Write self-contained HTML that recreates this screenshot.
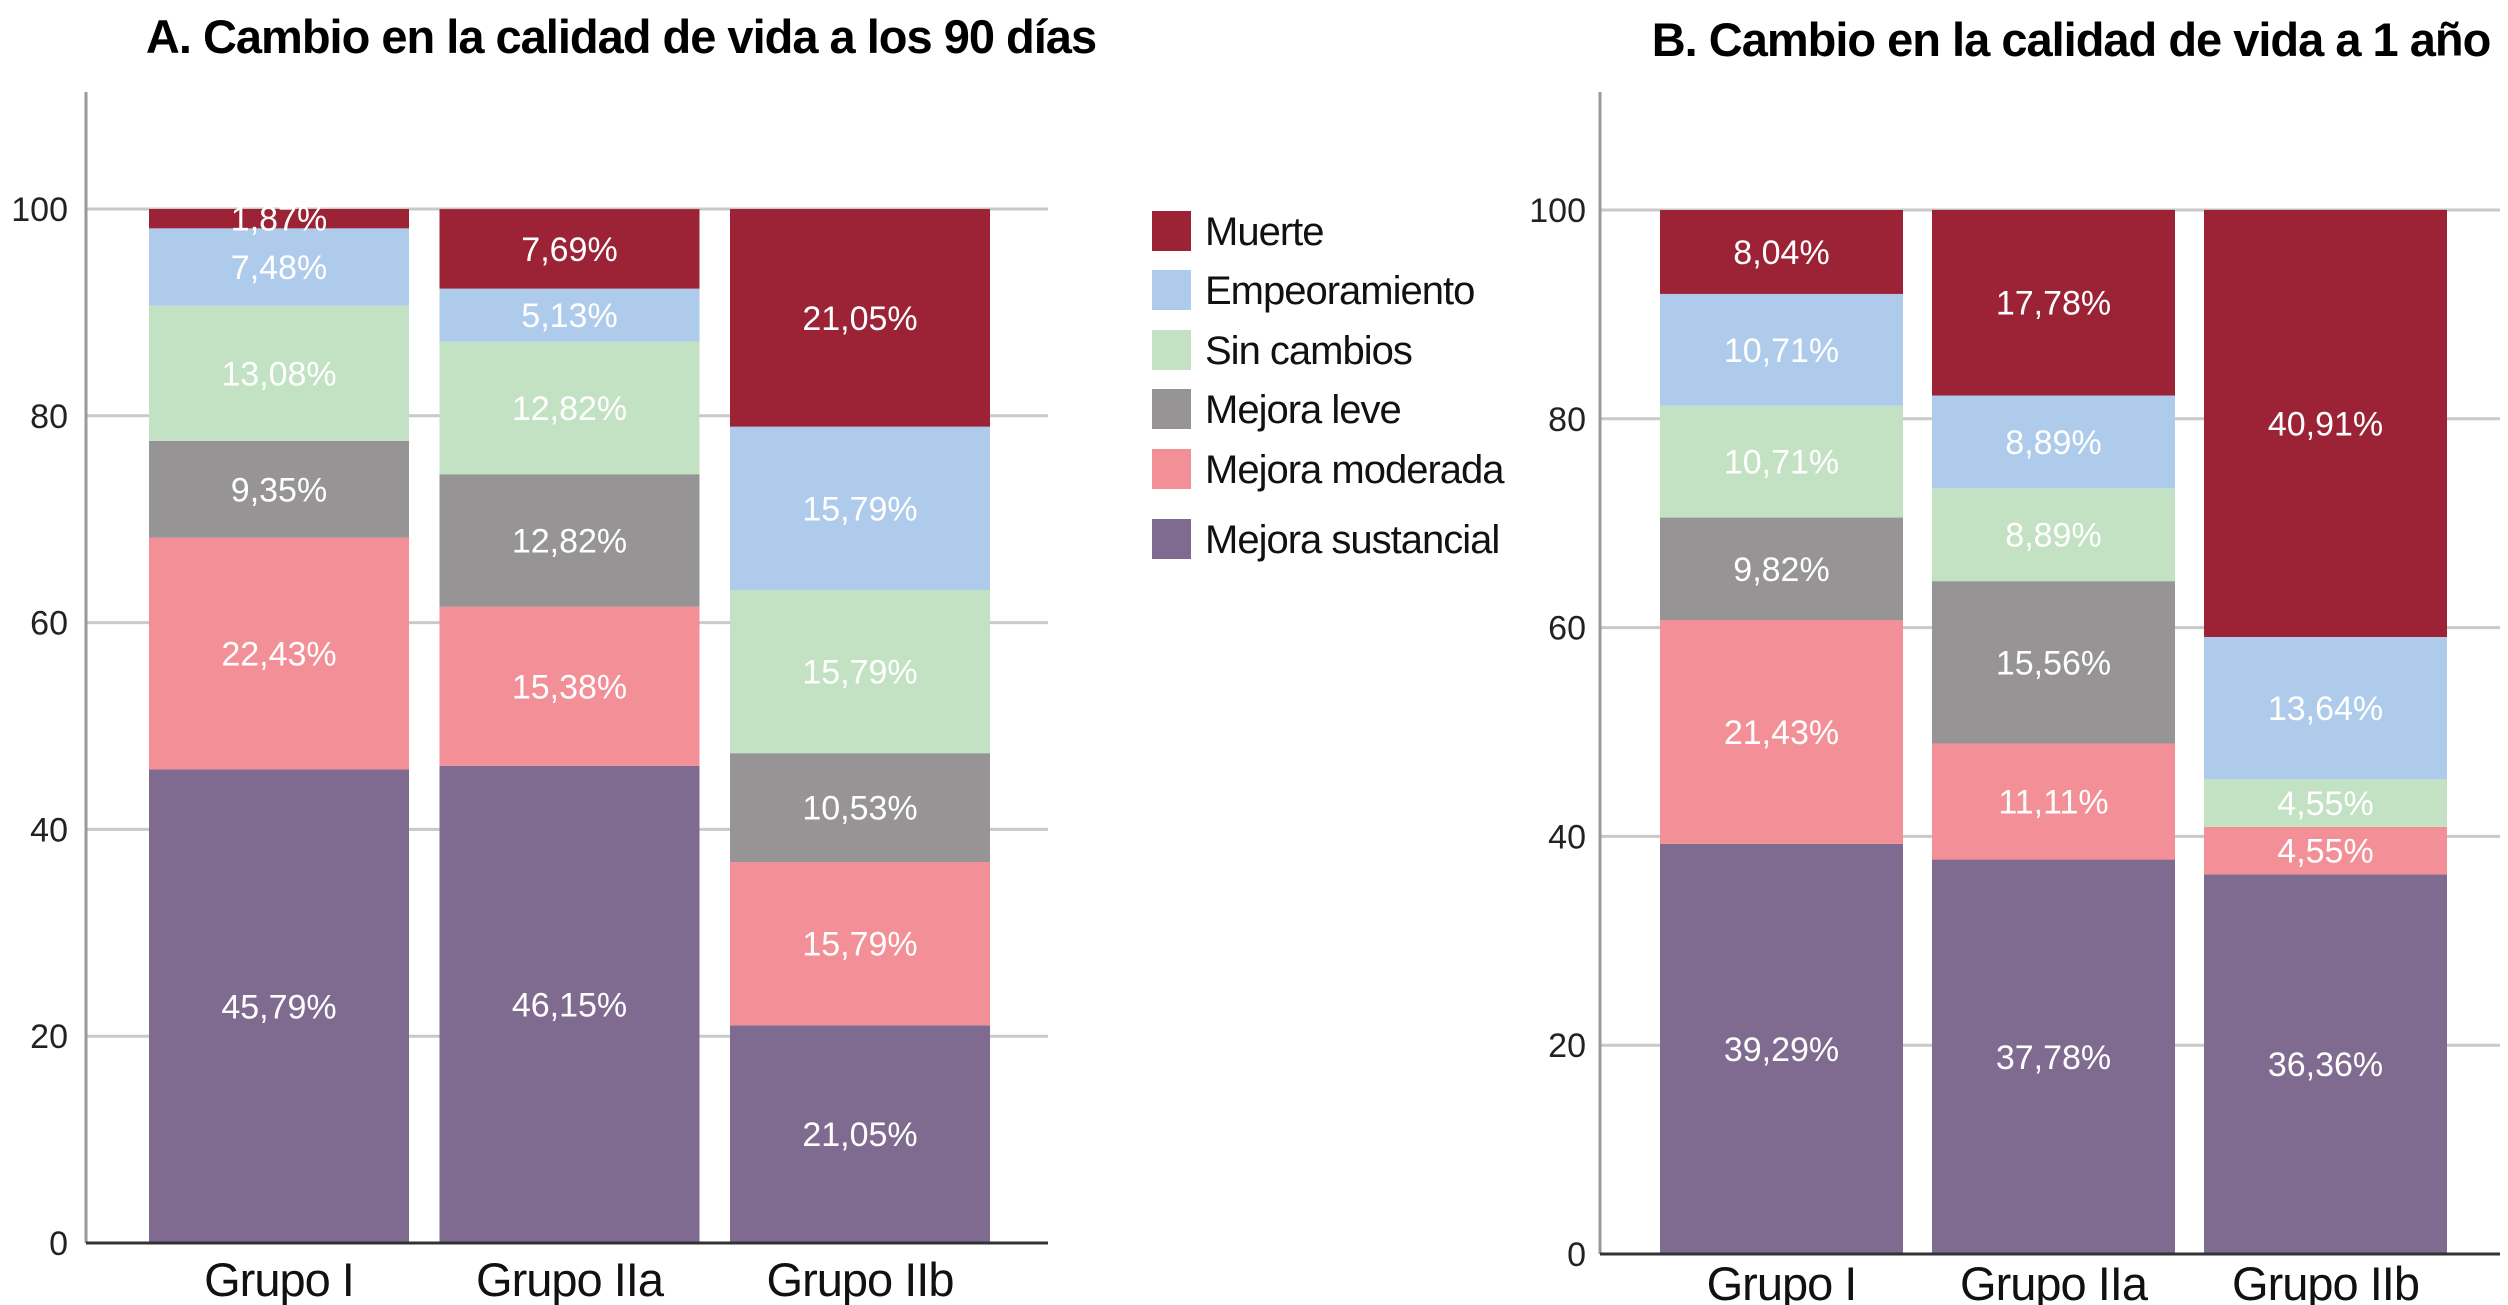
<!DOCTYPE html>
<html><head><meta charset="utf-8"><style>
html,body{margin:0;padding:0;background:#fff;}
svg{display:block;}
text{font-family:"Liberation Sans",Arial,sans-serif;}
</style></head><body>
<svg id="chart" width="2508" height="1305" viewBox="0 0 2508 1305" xmlns="http://www.w3.org/2000/svg">
<text x="621" y="53" font-size="47" font-weight="bold" text-anchor="middle" letter-spacing="-1">A. Cambio en la calidad de vida a los 90 días</text>
<text x="2071" y="56" font-size="47" font-weight="bold" text-anchor="middle" letter-spacing="-1">B. Cambio en la calidad de vida a 1 año</text>
<g id="legend"></g>
<g id="pa"></g>
<g id="pb"></g>
</svg>
<script>
const categories = ["Grupo I", "Grupo IIa", "Grupo IIb"];
const seriesNames = ["Mejora sustancial", "Mejora moderada", "Mejora leve", "Sin cambios", "Empeoramiento", "Muerte"];
const seriesColors = ["#7f6b90", "#f38f96", "#969494", "#c3e2c3", "#aecbeb", "#9b2335"];
const a_sustancial = [45.79, 46.15, 21.05];
const a_moderada = [22.43, 15.38, 15.79];
const a_leve = [9.35, 12.82, 10.53];
const a_sin = [13.08, 12.82, 15.79];
const a_empeor = [7.48, 5.13, 15.79];
const a_muerte = [1.87, 7.69, 21.05];
const b_sustancial = [39.29, 37.78, 36.36];
const b_moderada = [21.43, 11.11, 4.55];
const b_leve = [9.82, 15.56, 0];
const b_sin = [10.71, 8.89, 4.55];
const b_empeor = [10.71, 8.89, 13.64];
const b_muerte = [8.04, 17.78, 40.91];
const yTicks = [0, 20, 40, 60, 80, 100];
const seriesKeys = ["sustancial","moderada","leve","sin-cambios","empeoramiento","muerte"];

const NS = "http://www.w3.org/2000/svg";
function mk(tag, attrs, parent) {
  const e = document.createElementNS(NS, tag);
  for (const k in attrs) e.setAttribute(k, attrs[k]);
  parent.appendChild(e);
  return e;
}
function fmt(v){ return v.toFixed(2).replace('.', ',') + '%'; }

function panel(g, id, cfg, data) {
  const y = v => cfg.y0 - (cfg.y0 - cfg.y100) * v / 100;
  const bx = i => cfg.bar0 + i * cfg.step;
  yTicks.forEach(t => {
    if (t > 0) {
      const gl = mk('line', {x1: cfg.ax, x2: cfg.right, y1: y(t), y2: y(t), stroke: '#c9c9c9', 'stroke-width': 3}, g);
      
      
    }
    const tl = mk('text', {x: cfg.tickX, y: y(t) + 12, 'font-size': 34, 'text-anchor': 'end', fill: '#222'}, g);
    tl.textContent = t;
    
    
  });
  categories.forEach((c, i) => {
    let cum = 0;
    data.forEach((ser, s) => {
      const v = ser[i];
      if (v <= 0) { return; }
      const r = mk('rect', {x: bx(i), y: y(cum + v), width: cfg.bw, height: y(cum) - y(cum + v), fill: seriesColors[s]}, g);
      
      
      const ty = (y(cum) + y(cum + v)) / 2 + 12;
      const t = mk('text', {x: bx(i) + cfg.bw / 2, y: ty, 'font-size': 34, 'text-anchor': 'middle', fill: '#fff'}, g);
      t.textContent = fmt(v);
      
      
      cum += v;
    });
    const cl = mk('text', {x: bx(i) + cfg.bw / 2, y: cfg.catY, 'font-size': 47, 'text-anchor': 'middle', fill: '#111', 'letter-spacing': '-1'}, g);
    cl.textContent = c;
    
    
  });
  const ya = mk('line', {x1: cfg.ax, x2: cfg.ax, y1: 92, y2: cfg.y0, stroke: '#999', 'stroke-width': 3}, g);
  
  
  const xa = mk('line', {x1: cfg.ax, x2: cfg.right, y1: cfg.y0, y2: cfg.y0, stroke: '#333', 'stroke-width': 3}, g);
  
  
}

panel(document.getElementById('pa'), 'a',
  {ax: 86, right: 1048, y0: 1243, y100: 209, bar0: 149, step: 290.5, bw: 260, tickX: 68, catY: 1296},
  [a_sustancial, a_moderada, a_leve, a_sin, a_empeor, a_muerte]);
panel(document.getElementById('pb'), 'b',
  {ax: 1600, right: 2500, y0: 1254, y100: 210, bar0: 1660, step: 272, bw: 243, tickX: 1586, catY: 1300},
  [b_sustancial, b_moderada, b_leve, b_sin, b_empeor, b_muerte]);

const lg = document.getElementById('legend');
const legendY = [231, 290, 350, 409, 469, 539];
for (let k = 0; k < 6; k++) {
  const s = 5 - k;
  const r = mk('rect', {x: 1152, y: legendY[k] - 20, width: 39, height: 40, fill: seriesColors[s]}, lg);
  
  
  const t = mk('text', {x: 1205, y: legendY[k] + 14, 'font-size': 40, fill: '#111', 'letter-spacing': '-1'}, lg);
  t.textContent = seriesNames[s];
  
  
}
</script>
</body></html>
